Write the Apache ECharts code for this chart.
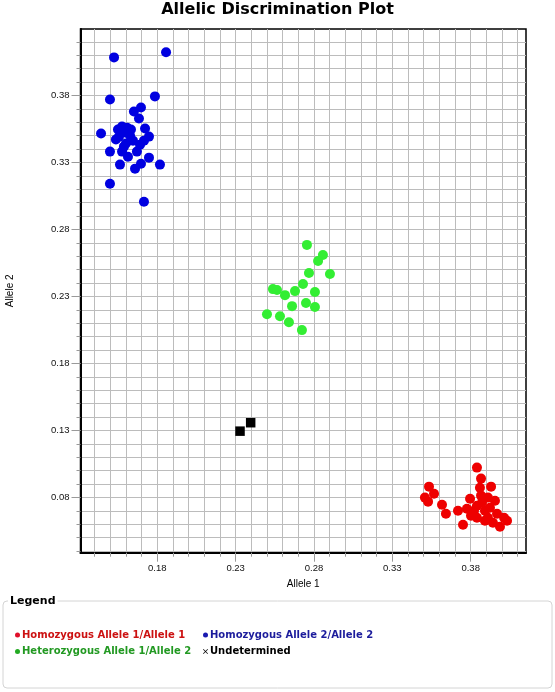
<!DOCTYPE html>
<html>
<head>
<meta charset="utf-8">
<script src="https://cdn.jsdelivr.net/npm/echarts@6/dist/echarts.min.js"></script>
<style>
html,body{margin:0;padding:0;background:#fff;}
#chart{width:555px;height:692px;}
</style>
</head>
<body>
<div id="chart"></div>
<script>
// ---- Data ----
const titleText = 'Allelic Discrimination Plot';
const xName = 'Allele 1';
const yName = 'Allele 2';
const seriesNames = ['Homozygous Allele 1/Allele 1', 'Homozygous Allele 2/Allele 2', 'Heterozygous Allele 1/Allele 2', 'Undetermined'];

// Homozygous Allele 1/Allele 1 (red)  [allele1, allele2]
const allele11 = [
  [0.3840,0.1023],[0.3866,0.0941],[0.3930,0.0881],[0.3859,0.0873],[0.3534,0.0881],
  [0.3566,0.0828],[0.3508,0.0799],[0.3528,0.0769],[0.3796,0.0791],[0.3955,0.0776],
  [0.3617,0.0746],[0.3642,0.0679],[0.3719,0.0701],[0.3776,0.0716],[0.3802,0.0664],
  [0.3751,0.0596],[0.3840,0.0739],[0.3872,0.0761],[0.3891,0.0701],[0.3923,0.0724],
  [0.3910,0.0649],[0.3968,0.0679],[0.4013,0.0649],[0.4032,0.0626],[0.3987,0.0581],
  [0.3891,0.0626],[0.3840,0.0649],[0.3942,0.0611],[0.3821,0.0701],[0.3866,0.0814],
  [0.3910,0.0799]
];
// Homozygous Allele 2/Allele 2 (blue)
const allele22 = [
  [0.1524,0.4084],[0.1856,0.4122],[0.1498,0.3770],[0.1785,0.3793],[0.1696,0.3710],
  [0.1651,0.3680],[0.1683,0.3628],[0.1722,0.3553],[0.1441,0.3516],[0.1549,0.3546],
  [0.1575,0.3568],[0.1607,0.3560],[0.1632,0.3546],[0.1594,0.3523],[0.1556,0.3493],
  [0.1536,0.3471],[0.1626,0.3501],[0.1747,0.3493],[0.1715,0.3463],[0.1498,0.3381],
  [0.1587,0.3418],[0.1575,0.3381],[0.1613,0.3343],[0.1690,0.3433],[0.1670,0.3381],
  [0.1562,0.3284],[0.1658,0.3254],[0.1696,0.3291],[0.1747,0.3336],[0.1817,0.3284],
  [0.1498,0.3141],[0.1715,0.3007],[0.1600,0.3441],[0.1645,0.3463]
];
// Heterozygous Allele 1/Allele 2 (green)
const allele12 = [
  [0.2755,0.2685],[0.2857,0.2610],[0.2826,0.2565],[0.2768,0.2475],[0.2902,0.2468],
  [0.2730,0.2393],[0.2538,0.2355],[0.2564,0.2348],[0.2615,0.2310],[0.2679,0.2340],
  [0.2806,0.2333],[0.2660,0.2228],[0.2749,0.2251],[0.2806,0.2221],[0.2500,0.2168],
  [0.2583,0.2153],[0.2640,0.2108],[0.2723,0.2049]
];
// Undetermined (black)
const undetermined = [[0.2328,0.1295],[0.2396,0.1358]];

// Axis ranges and ticks
const xMin = 0.131, xMax = 0.4153;
const yMin = 0.0388, yMax = 0.4296;
const xLabelValues = [0.18, 0.23, 0.28, 0.33, 0.38];
const yLabelValues = [0.08, 0.13, 0.18, 0.23, 0.28, 0.33, 0.38];
const xGridValues = [0.14,0.15,0.16,0.17,0.18,0.19,0.20,0.21,0.22,0.23,0.24,0.25,0.26,0.27,0.28,0.29,0.30,0.31,0.32,0.33,0.34,0.35,0.36,0.37,0.38,0.39,0.40,0.41];
const yGridValues = [0.04,0.05,0.06,0.07,0.08,0.09,0.10,0.11,0.12,0.13,0.14,0.15,0.16,0.17,0.18,0.19,0.20,0.21,0.22,0.23,0.24,0.25,0.26,0.27,0.28,0.29,0.30,0.31,0.32,0.33,0.34,0.35,0.36,0.37,0.38,0.39,0.40,0.41,0.42];

// ---- Styles ----
const markerColors = ['#ee0000', '#0000e0', '#33ee33', '#000000'];
const legendTextColors = ['#cc1111', '#1c1c9c', '#229922', '#000000'];
const legendDotColors = ['#e0102a', '#1a1ab0', '#22aa22', '#000000'];
const gridColor = '#bcbcbc';
const tickColor = '#9a9a9a';
const labelFont = 'Liberation Sans, Arial, sans-serif';
const boldFont = 'DejaVu Sans, Verdana, sans-serif';
const crossIcon = 'path://M0,1L1,0L5,4L9,0L10,1L6,5L10,9L9,10L5,6L1,10L0,9L4,5Z';

const chart = echarts.init(document.getElementById('chart'), null, {renderer: 'canvas'});

function gridAxis(kind) {
  const isX = kind === 'x';
  return {
    type: 'value', min: isX ? xMin : yMin, max: isX ? xMax : yMax,
    position: isX ? 'bottom' : 'left',
    axisLine: {show: true, onZero: false, lineStyle: {color: '#000', width: 2}},
    axisTick: {show: true, inside: false, length: 4, customValues: isX ? xGridValues : yGridValues,
               lineStyle: {color: tickColor, width: 1}},
    axisLabel: {show: false},
    splitLine: {show: true, lineStyle: {color: gridColor, width: 1}}
  };
}
function labelAxis(kind) {
  const isX = kind === 'x';
  return {
    type: 'value', min: isX ? xMin : yMin, max: isX ? xMax : yMax,
    position: isX ? 'bottom' : 'left',
    name: isX ? xName : yName,
    nameLocation: 'middle',
    nameGap: isX ? 27 : 65,
    nameTextStyle: {fontFamily: labelFont, fontSize: 10, color: '#000'},
    axisLine: {show: false, onZero: false},
    axisTick: {show: true, inside: false, length: 9, customValues: isX ? xLabelValues : yLabelValues,
               lineStyle: {color: tickColor, width: 1}},
    axisLabel: {show: true, customValues: isX ? xLabelValues : yLabelValues,
                margin: 11, fontFamily: labelFont, fontSize: 9.5, color: '#111',
                formatter: v => Number(v).toFixed(2)},
    splitLine: {show: false}
  };
}

const legendText = {fontFamily: boldFont, fontWeight: 'bold', fontSize: 10, lineHeight: 12, padding: [0, 0, 0, -3]};

const option = {
  animation: false,
  backgroundColor: '#fff',
  title: {
    text: titleText, left: 'center', top: 2, padding: 0,
    textStyle: {fontFamily: boldFont, fontWeight: 'bold', fontSize: 16, color: '#000'}
  },
  grid: {left: 80.5, right: 29, top: 29, bottom: 139.3, outerBoundsMode: 'none', containLabel: false,
         show: true, borderColor: '#000', borderWidth: 1.5, backgroundColor: '#fff'},
  xAxis: [gridAxis('x'), labelAxis('x')],
  yAxis: [gridAxis('y'), labelAxis('y')],
  legend: [
    {
      orient: 'vertical', left: 15, top: 629, padding: 0, itemGap: 4.5,
      itemWidth: 5, itemHeight: 5, selectedMode: false, icon: 'circle',
      textStyle: legendText,
      data: [
        {name: seriesNames[0], itemStyle: {color: legendDotColors[0]}, textStyle: {color: legendTextColors[0]}},
        {name: seriesNames[2], itemStyle: {color: legendDotColors[2]}, textStyle: {color: legendTextColors[2]}}
      ]
    },
    {
      orient: 'vertical', left: 203, top: 629, padding: 0, itemGap: 4.5,
      itemWidth: 5, itemHeight: 5, selectedMode: false, icon: 'circle',
      textStyle: legendText,
      data: [
        {name: seriesNames[1], itemStyle: {color: legendDotColors[1]}, textStyle: {color: legendTextColors[1]}},
        {name: seriesNames[3], icon: crossIcon, itemStyle: {color: legendDotColors[3]}, textStyle: {color: legendTextColors[3]}}
      ]
    }
  ],
  graphic: [
    {type: 'rect', z: 0, shape: {x: 3, y: 601, width: 549, height: 87, r: 4},
     style: {fill: 'none', stroke: '#d4d4d4', lineWidth: 1}},
    {type: 'text', z: 1, x: 8, y: 601,
     style: {text: 'Legend', fill: '#000', font: 'bold 11px DejaVu Sans', verticalAlign: 'middle',
             backgroundColor: '#fff', padding: [0, 2]}}
  ],
  series: [
    {name: seriesNames[0], type: 'scatter', data: allele11, symbol: 'circle', symbolSize: 10,
     itemStyle: {color: markerColors[0], opacity: 1}, emphasis: {disabled: true}},
    {name: seriesNames[1], type: 'scatter', data: allele22, symbol: 'circle', symbolSize: 10,
     itemStyle: {color: markerColors[1], opacity: 1}, emphasis: {disabled: true}},
    {name: seriesNames[2], type: 'scatter', data: allele12, symbol: 'circle', symbolSize: 10,
     itemStyle: {color: markerColors[2], opacity: 1}, emphasis: {disabled: true}},
    {name: seriesNames[3], type: 'scatter', data: undetermined, symbol: 'rect', symbolSize: 9.5,
     itemStyle: {color: markerColors[3], opacity: 1}, emphasis: {disabled: true}}
  ]
};
chart.setOption(option);
</script>
</body>
</html>
